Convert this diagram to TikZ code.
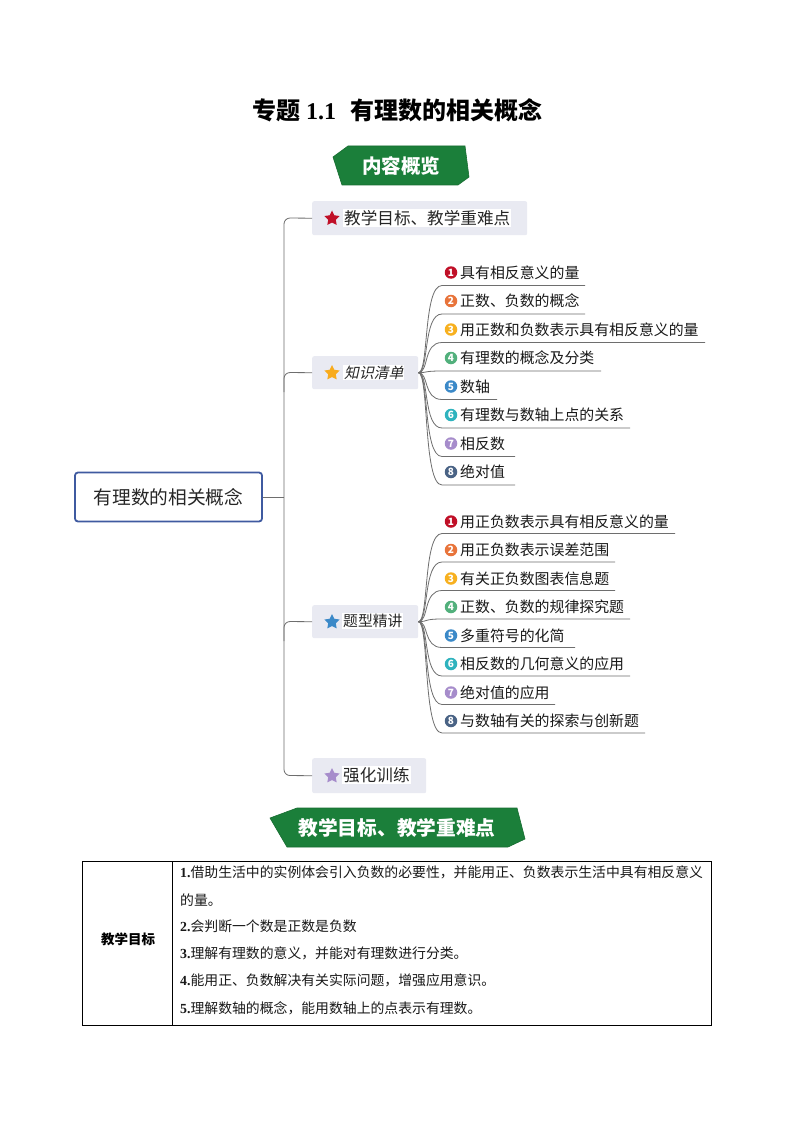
\documentclass[tikz,border=0pt]{standalone}
\usepackage{fontspec}
\setmainfont{Noto Sans CJK SC}
\newfontfamily\cjkit[FakeSlant=0.22]{Noto Sans CJK SC}
\newfontfamily\serifbf{Liberation Serif}[BoldFont={Liberation Serif Bold}]
\usetikzlibrary{shapes.geometric}
\definecolor{bannergreen}{HTML}{1B7F3A}
\definecolor{topicbg}{HTML}{E9EAF2}
\definecolor{linegray}{HTML}{6E6E6E}
\definecolor{rootblue}{HTML}{3F5AA0}
\definecolor{cA}{HTML}{C00F27}
\definecolor{cB}{HTML}{E8743B}
\definecolor{cC}{HTML}{F7B01F}
\definecolor{cD}{HTML}{52B07C}
\definecolor{cE}{HTML}{3B89C8}
\definecolor{cF}{HTML}{2FB3BE}
\definecolor{cG}{HTML}{A68CCB}
\definecolor{cH}{HTML}{4A6385}
\tikzset{
  x=1pt,y=-1pt,
  banner/.style={fill=bannergreen,draw=bannergreen!85!black,line width=.6pt},
  bannertext/.style={text=white,inner sep=0pt},
  topic/.style={fill=topicbg,rounded corners=2pt,inner sep=0pt,anchor=north west},
  topictext/.style={fill=white,inner sep=1pt,text=black!85,anchor=west},
  link/.style={draw=linegray,line width=.8pt,rounded corners=6pt},
  sublink/.style={draw=linegray,line width=.8pt},
  leaftext/.style={anchor=west,inner sep=0pt,font=\fontsize{14.9}{16}\selectfont,text=black!90},
  badge/.style={circle,minimum size=12.5pt,inner sep=0pt,text=white,font=\fontsize{10}{10}\selectfont\bfseries},
  topicstar/.style={star,star points=5,star point ratio=2.0,minimum size=16pt,inner sep=0pt},
  cell/.style={anchor=west,inner sep=0pt,font=\fontsize{13.85}{15}\selectfont,text=black!90}
}
\newcommand{\dg}[1]{{\serifbf\bfseries #1}}
\begin{document}
\begin{tikzpicture}
\useasboundingbox (0,0) rectangle (794,1123);
\fill[white] (0,0) rectangle (794,1123);

% title
\node[inner sep=0pt,font=\fontsize{24}{26}\selectfont\bfseries] (title) at (397,110) {专题\hspace{6pt}{\serifbf\bfseries 1.1}\hspace{14pt}有理数的相关概念};

% banner 1
\draw[banner] (348,146) -- (465,146) -- (469,177) -- (458,185) -- (342,185) -- (333,157) -- cycle;
\node[bannertext,font=\fontsize{19.5}{20}\selectfont\bfseries] (ban1) at (401,166) {内容概览};

% root
\node[draw=rootblue,line width=1.8pt,rounded corners=3pt,fill=white,minimum width=187pt,minimum height=49pt,inner sep=0pt,font=\fontsize{18.7}{20}\selectfont,text=black!85] (root) at (168.5,497) {有理数的相关概念};

% topics
\node[topic,minimum width=215pt,minimum height=34pt] (t1) at (312,201) {};
\node[topic,minimum width=106pt,minimum height=33pt] (t2) at (312,356) {};
\node[topic,minimum width=106pt,minimum height=33pt] (t3) at (312,605) {};
\node[topic,minimum width=114pt,minimum height=35pt] (t4) at (312,758) {};

\node[topicstar,fill=cA] (s1) at (332,218.5) {};
\node[topicstar,fill=cC!90!orange] (s2) at (332,373) {};
\node[topicstar,fill=cE] (s3) at (332,622) {};
\node[topicstar,fill=cG] (s4) at (332,776) {};

\node[topictext,font=\fontsize{16.6}{18}\selectfont] (l1) at (343,218) {教学目标、教学重难点};
\node[topictext,font=\fontsize{14.8}{16}\selectfont\cjkit] (l2) at (343,372.5) {知识清单};
\node[topictext,font=\fontsize{14.8}{16}\selectfont] (l3) at (342,621) {题型精讲};
\node[topictext,font=\fontsize{16.6}{18}\selectfont] (l4) at (342,775) {强化训练};

% trunk
\coordinate (trunk) at (284,497);
\draw[sublink] (root.east) -- (trunk);
\draw[link] (t1.west) -- (284,218) -- (trunk);
\draw[link] (t4.west) -- (284,775.5) -- (trunk);
\draw[link] (t2.west) -- (284,372.5) -- (284,392);
\draw[link] (t3.west) -- (284,621.5) -- (284,641);

% leaves of group 2
\foreach \id/\y/\ex/\col/\n/\txt in {
  a1/272.5/585/A/1/具有相反意义的量,
  a2/301/585/B/2/正数、负数的概念,
  a3/329.5/705/C/3/用正数和负数表示具有相反意义的量,
  a4/358/601/D/4/有理数的概念及分类,
  a5/386.5/497/E/5/数轴,
  a6/415/630/F/6/有理数与数轴上点的关系,
  a7/443.5/515/G/7/相反数,
  a8/472/515/H/8/绝对值}{
  \node[leaftext] (\id t) at (460,\y) {\txt};
  \node[badge,fill=c\col] (\id b) at (451,\y) {\n};
  \coordinate (\id s) at (442,\y+13);
  \coordinate (\id e) at (\ex,\y+13);
  \draw[sublink] (t2.east) .. controls (429,372.5) and (423,\y+13) .. (\id s) -- (\id e);
}
% leaves of group 3
\foreach \id/\y/\ex/\col/\n/\txt in {
  b1/521.5/675/A/1/用正负数表示具有相反意义的量,
  b2/550/615/B/2/用正负数表示误差范围,
  b3/578.5/615/C/3/有关正负数图表信息题,
  b4/607/630/D/4/正数、负数的规律探究题,
  b5/635.5/575/E/5/多重符号的化简,
  b6/664/630/F/6/相反数的几何意义的应用,
  b7/692.5/555/G/7/绝对值的应用,
  b8/721/645/H/8/与数轴有关的探索与创新题}{
  \node[leaftext] (\id t) at (460,\y) {\txt};
  \node[badge,fill=c\col] (\id b) at (451,\y) {\n};
  \coordinate (\id s) at (442,\y+12);
  \coordinate (\id e) at (\ex,\y+12);
  \draw[sublink] (t3.east) .. controls (429,621.5) and (423,\y+12) .. (\id s) -- (\id e);
}

% banner 2
\draw[banner] (270,818) -- (297,808) -- (517,808) -- (525,839) -- (508,847) -- (287,847) -- cycle;
\node[bannertext,font=\fontsize{19.7}{21}\selectfont\bfseries] (ban2) at (397,828) {教学目标、教学重难点};

% table
\node[draw=black,line width=.9pt,minimum width=629pt,minimum height=164pt,inner sep=0pt,anchor=north west] (tbl) at (82,861) {};
\coordinate (divT) at (172.5,861);
\coordinate (divB) at (172.5,1025);
\draw[black,line width=.9pt] (divT) -- (divB);
\node[inner sep=0pt,font=\fontsize{13.5}{15}\selectfont\bfseries] (c0) at (128,939.5) {教学目标};
\node[cell] (c1) at (180,872) {\dg{1.}借助生活中的实例体会引入负数的必要性，并能用正、负数表示生活中具有相反意义};
\node[cell] (c2) at (180,900) {的量。};
\node[cell] (c3) at (180,926) {\dg{2.}会判断一个数是正数是负数};
\node[cell] (c4) at (180,953) {\dg{3.}理解有理数的意义，并能对有理数进行分类。};
\node[cell] (c5) at (180,980) {\dg{4.}能用正、负数解决有关实际问题，增强应用意识。};
\node[cell] (c6) at (180,1008) {\dg{5.}理解数轴的概念，能用数轴上的点表示有理数。};
\end{tikzpicture}
\end{document}
